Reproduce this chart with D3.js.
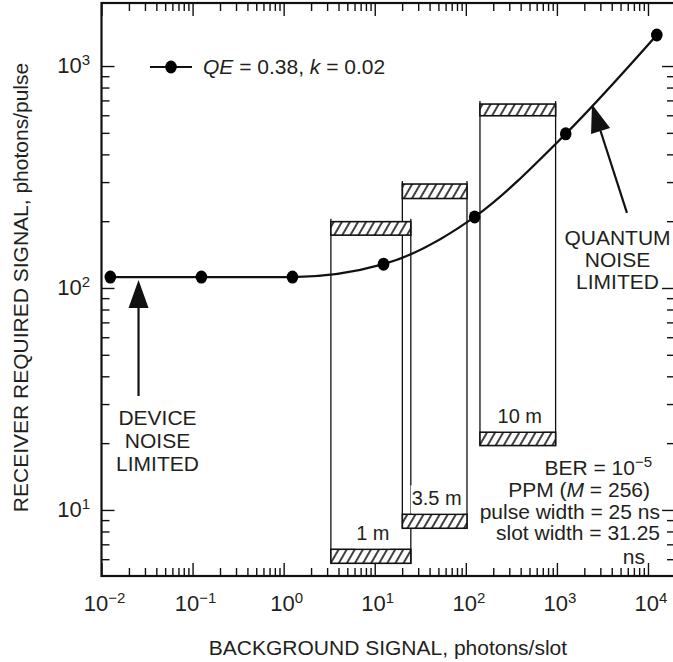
<!DOCTYPE html>
<html>
<head>
<meta charset="utf-8">
<style>
  body { margin: 0; background: #fff; }
  svg text { font-family: "Liberation Sans", Arial, sans-serif; fill: #231f20; }
</style>
</head>
<body>
<div id="chart"></div>
<script src="https://d3js.org/d3.v7.min.js"></script>
<script>
// receiver curve, QE = 0.38, k = 0.02
const background = [0.0125, 0.125, 1.25, 12.5, 125, 1250, 12500];
const required = [112, 112, 112, 128, 209, 495, 1380];

// link distance boxes
const boxNames = ['1 m', '3.5 m', '10 m'];
const boxLeft = [3.3, 20.1, 143];
const boxRight = [24.9, 103, 968];
const topHatch = [[199, 173], [294, 253], [674, 597]];
const bottomHatch = [[6.65, 5.75], [9.56, 8.27], [22.4, 19.5]];

// axis ticks
const xMajor = [1e-2, 1e-1, 1, 1e1, 1e2, 1e3, 1e4];
const xExp = ['\u22122', '\u22121', '0', '1', '2', '3', '4'];
const yMajor = [10, 100, 1000];
const yExp = ['1', '2', '3'];

// arrows: [x, y] tail -> tip, in data units
const deviceArrow = [[0.0255, 32.6], [0.0255, 108.7]];
const quantumArrow = [[5875, 218], [2427, 672]];

const W = 673, H = 662;
const mLeft = 101.5, mRight = 675, mTop = 3, mBottom = 576;

const svg = d3.select('#chart').append('svg')
  .attr('width', W).attr('height', H);

const defs = svg.append('defs');
defs.append('pattern')
  .attr('id', 'hatch')
  .attr('patternUnits', 'userSpaceOnUse')
  .attr('width', 7).attr('height', 7)
  .attr('patternTransform', 'rotate(30)')
  .append('line')
  .attr('x1', 1).attr('y1', 0).attr('x2', 1).attr('y2', 7)
  .attr('stroke', '#000').attr('stroke-width', 1.5);

const x = d3.scaleLog().domain([0.01, 19800]).range([mLeft, mRight]);
const y = d3.scaleLog().domain([5.04, 1923]).range([mBottom, mTop]);

// ticks, all pointing inward
const isMajor = v => Math.abs(Math.log10(v) - Math.round(Math.log10(v))) < 1e-6;
const xMinor = x.ticks().filter(v => !isMajor(v));
const yMinor = y.ticks().filter(v => !isMajor(v));

function addAxis(axis, values, size, transform) {
  const g = svg.append('g')
    .attr('transform', transform)
    .call(axis.tickValues(values).tickSize(size).tickSizeOuter(0).tickFormat(''));
  g.select('.domain').remove();
  g.selectAll('line').attr('stroke', '#111').attr('stroke-width', 1.4);
}
addAxis(d3.axisBottom(x), xMinor, -8, `translate(0,${mBottom})`);
addAxis(d3.axisBottom(x), xMajor, -13, `translate(0,${mBottom})`);
addAxis(d3.axisTop(x), xMinor, -8, `translate(0,${mTop})`);
addAxis(d3.axisTop(x), xMajor, -13, `translate(0,${mTop})`);
addAxis(d3.axisLeft(y), yMinor, -8, `translate(${mLeft},0)`);
addAxis(d3.axisLeft(y), yMajor, -13, `translate(${mLeft},0)`);
addAxis(d3.axisRight(y), yMinor, -8, `translate(${mRight},0)`);
addAxis(d3.axisRight(y), yMajor, -13, `translate(${mRight},0)`);

svg.append('rect')
  .attr('x', mLeft).attr('y', mTop)
  .attr('width', mRight - mLeft).attr('height', mBottom - mTop)
  .attr('fill', 'none').attr('stroke', '#111').attr('stroke-width', 2.2);

// tick labels with superscript exponents
xMajor.forEach((v, i) => {
  const t = svg.append('text')
    .attr('x', x(v) + 3).attr('y', 611)
    .attr('text-anchor', 'middle')
    .style('font-size', '22px');
  t.append('tspan').text('10');
  t.append('tspan').attr('dy', -8).style('font-size', '15px').text(xExp[i]);
});
yMajor.forEach((v, i) => {
  const t = svg.append('text')
    .attr('x', 90).attr('y', y(v) + 7)
    .attr('text-anchor', 'end')
    .style('font-size', '22px');
  t.append('tspan').text('10');
  t.append('tspan').attr('dy', -8).style('font-size', '15px').text(yExp[i]);
});

svg.append('text')
  .attr('x', 388).attr('y', 655)
  .attr('text-anchor', 'middle')
  .style('font-size', '21px')
  .text('BACKGROUND SIGNAL, photons/slot');

svg.append('text')
  .attr('transform', 'translate(28,287.5) rotate(-90)')
  .attr('text-anchor', 'middle')
  .style('font-size', '21px')
  .text('RECEIVER REQUIRED SIGNAL, photons/pulse');

// boxes
const boxes = boxNames.map((name, i) => ({
  name, x0: boxLeft[i], x1: boxRight[i], top: topHatch[i], bot: bottomHatch[i]
}));

const boxG = svg.append('g');
boxes.forEach(b => {
  [b.x0, b.x1].forEach(v => {
    boxG.append('line')
      .attr('x1', x(v)).attr('x2', x(v))
      .attr('y1', y(b.top[0]) - 3).attr('y2', y(b.bot[1]))
      .attr('stroke', '#111').attr('stroke-width', 1.3);
  });
});
boxes.forEach(b => {
  [b.top, b.bot].forEach(h => {
    boxG.append('rect')
      .attr('x', x(b.x0)).attr('y', y(h[0]))
      .attr('width', x(b.x1) - x(b.x0)).attr('height', y(h[1]) - y(h[0]))
      .attr('fill', '#fff');
    boxG.append('rect')
      .attr('x', x(b.x0)).attr('y', y(h[0]))
      .attr('width', x(b.x1) - x(b.x0)).attr('height', y(h[1]) - y(h[0]))
      .attr('fill', 'url(#hatch)')
      .attr('stroke', '#111').attr('stroke-width', 1.6);
  });
  const lbl = boxG.append('text')
    .attr('x', (x(b.x0) + x(b.x1)) / 2 + 2)
    .attr('y', y(b.bot[0]) - 9)
    .attr('text-anchor', 'middle')
    .style('font-size', '20px')
    .text(b.name);
  const bb = lbl.node().getBBox();
  boxG.insert('rect', () => lbl.node())
    .attr('x', bb.x - 1).attr('y', bb.y - 2)
    .attr('width', bb.width + 2).attr('height', y(b.bot[0]) - bb.y + 1)
    .attr('fill', '#fff');
});

// curve
const pts = background.map((v, i) => [v, required[i]]);
svg.append('path')
  .datum(pts)
  .attr('fill', 'none')
  .attr('stroke', '#111')
  .attr('stroke-width', 2.3)
  .attr('d', d3.line().x(d => x(d[0])).y(d => y(d[1])).curve(d3.curveMonotoneX));

svg.selectAll('.dot')
  .data(pts)
  .enter()
  .append('ellipse')
  .attr('class', 'dot')
  .attr('cx', d => x(d[0])).attr('cy', d => y(d[1]))
  .attr('rx', 5.8).attr('ry', 6.5)
  .attr('fill', '#000');

// legend
svg.append('line')
  .attr('x1', 150).attr('x2', 192).attr('y1', 67).attr('y2', 67)
  .attr('stroke', '#111').attr('stroke-width', 2);
svg.append('ellipse')
  .attr('cx', 171).attr('cy', 67).attr('rx', 5.8).attr('ry', 6.5).attr('fill', '#000');
const leg = svg.append('text').attr('x', 203).attr('y', 74).style('font-size', '21px');
leg.append('tspan').style('font-style', 'italic').text('QE');
leg.append('tspan').text(' = 0.38, ');
leg.append('tspan').style('font-style', 'italic').text('k');
leg.append('tspan').text(' = 0.02');

// arrows
function arrow(a) {
  const x0 = x(a[0][0]), y0 = y(a[0][1]), x1 = x(a[1][0]), y1 = y(a[1][1]);
  const len = Math.hypot(x1 - x0, y1 - y0);
  const ux = (x1 - x0) / len, uy = (y1 - y0) / len;
  const hl = 28, hw = 10;
  const bx = x1 - ux * hl, by = y1 - uy * hl;
  svg.append('line')
    .attr('x1', x0).attr('y1', y0).attr('x2', bx).attr('y2', by)
    .attr('stroke', '#111').attr('stroke-width', 2.2);
  svg.append('path')
    .attr('d', `M${x1},${y1}L${bx - uy * hw},${by + ux * hw}L${bx + uy * hw},${by - ux * hw}Z`)
    .attr('fill', '#111');
}
arrow(deviceArrow);
arrow(quantumArrow);

function multiline(lines, cx, y0, step) {
  lines.forEach((s, i) => {
    svg.append('text')
      .attr('x', cx).attr('y', y0 + i * step)
      .attr('text-anchor', 'middle')
      .style('font-size', '21px')
      .text(s);
  });
}
multiline(['DEVICE', 'NOISE', 'LIMITED'], 157.5, 425, 23);
multiline(['QUANTUM', 'NOISE', 'LIMITED'], 617.5, 245, 22);

// conditions
const t1 = svg.append('text').attr('x', 652).attr('y', 475).attr('text-anchor', 'end').style('font-size', '21px');
t1.append('tspan').text('BER = 10');
t1.append('tspan').attr('dy', -8).style('font-size', '15px').text('\u22125');

const t2 = svg.append('text').attr('x', 650).attr('y', 497).attr('text-anchor', 'end').style('font-size', '21px');
t2.append('tspan').text('PPM (');
t2.append('tspan').style('font-style', 'italic').text('M');
t2.append('tspan').text(' = 256)');

svg.append('text').attr('x', 660).attr('y', 519).attr('text-anchor', 'end').style('font-size', '21px')
  .text('pulse width = 25 ns');
svg.append('text').attr('x', 660).attr('y', 540).attr('text-anchor', 'end').style('font-size', '21px')
  .text('slot width = 31.25');
svg.append('text').attr('x', 645).attr('y', 564).attr('text-anchor', 'end').style('font-size', '21px')
  .text('ns');
</script>
</body>
</html>
